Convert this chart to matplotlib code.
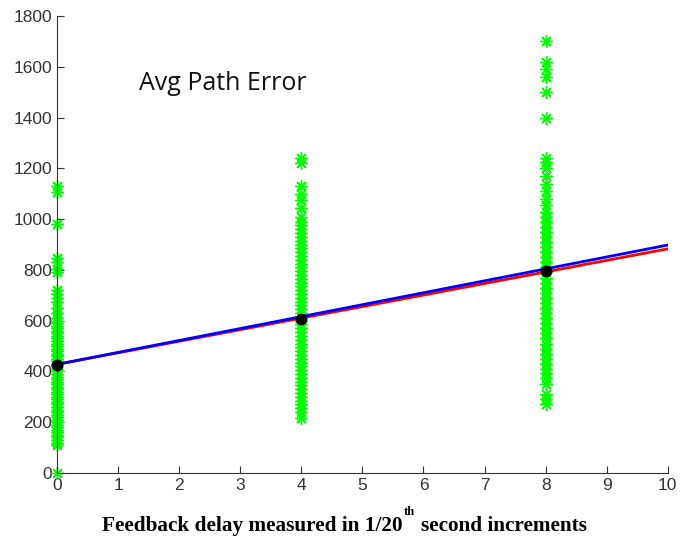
import matplotlib
matplotlib.use("Agg")
import matplotlib.pyplot as plt
import numpy as np

# Feedback delay groups (in 1/20th second increments)
delays = [0, 4, 8]

# Average path error per trial at each delay
errors_d0 = [1130, 1105, 980, 845, 830, 805, 790, 720, 705, 690, 675, 650, 630,
             610, 600, 590, 580, 570, 560, 550, 540, 530, 520, 510, 500, 490,
             480, 470, 460, 450, 440, 430, 420, 410, 400, 390, 380, 370, 360,
             350, 340, 330, 320, 310, 300, 290, 280, 270, 260, 250, 240, 230,
             220, 210, 200, 190, 180, 170, 160, 150, 140, 130, 120, 110, 0]
errors_d4 = [1240, 1220, 1130, 1100, 1075, 1045, 1010, 990, 975, 960, 945, 930,
             915, 900, 885, 870, 855, 840, 825, 810, 795, 780, 765, 750, 735,
             720, 705, 690, 675, 660, 645, 630, 615, 600, 585, 570, 555, 540,
             525, 510, 495, 480, 465, 450, 435, 420, 405, 390, 375, 360, 345,
             330, 315, 300, 285, 270, 255, 240, 215]
errors_d8 = [1700, 1620, 1590, 1560, 1500, 1400, 1240, 1225, 1200, 1170, 1140,
             1110, 1080, 1055, 1030, 1010, 990, 970, 950, 930, 910, 890, 870,
             850, 830, 810, 790, 770, 750, 730, 710, 690, 670, 650, 630, 610,
             590, 570, 550, 530, 510, 490, 470, 450, 430, 410, 395, 375, 350,
             310, 290, 270]

# Group means and the two fitted trend lines (intercept, slope)
group_means = [425, 605, 795]
fit_red = (428, 45.5)
fit_blue = (428, 47.0)

fig = plt.figure(figsize=(6.8, 5.39), dpi=100)
ax = fig.add_axes([0.0838, 0.1224, 0.8982, 0.8479])

green = (0.0, 1.0, 0.0)
asterisk = (8, 2, 0)
for d, vals in zip(delays, [errors_d0, errors_d4, errors_d8]):
    ax.plot([d] * len(vals), vals, linestyle="none", marker=asterisk,
            color=green, markersize=9, markeredgewidth=1.0, clip_on=False,
            zorder=2)

xs = np.array([0, 10])
ax.plot(xs, fit_red[0] + fit_red[1] * xs, color="red", linewidth=2, zorder=3)
ax.plot(xs, fit_blue[0] + fit_blue[1] * xs, color="blue", linewidth=2,
        zorder=4)
ax.plot(delays, group_means, linestyle="none", marker="o", color="black",
        markersize=7.5, zorder=5, clip_on=False)

ax.set_xlim(0, 10)
ax.set_ylim(0, 1800)
ax.set_xticks(range(0, 11))
ax.set_yticks(range(0, 1801, 200))
for side in ("top", "right"):
    ax.spines[side].set_visible(False)
for side in ("left", "bottom"):
    ax.spines[side].set_color("#333333")
ax.tick_params(direction="in", length=5, color="#333333", labelsize=12.5,
               labelcolor="#333333")
for lbl in ax.get_xticklabels() + ax.get_yticklabels():
    lbl.set_family("Liberation Sans")

ax.text(1.35, 1510, "Avg Path Error", fontsize=18, family="Open Sans",
        color="#111111")

# Axis label assembled from pieces so the ordinal suffix sits as a superscript
label_font = dict(family="Liberation Serif", fontweight="bold", color="black")
fig.canvas.draw()
renderer = fig.canvas.get_renderer()
fw = fig.bbox.width
x0, base_y = 102 / 680, 1 - 531 / 539
part1 = fig.text(x0, base_y, "Feedback delay measured in 1/20", fontsize=15.3,
                 **label_font)
w1 = part1.get_window_extent(renderer).width / fw
sup = fig.text(x0 + w1 + 1 / fw, base_y + 16 / 539, "th", fontsize=9,
               **label_font)
ws = sup.get_window_extent(renderer).width / fw
fig.text(x0 + w1 + ws + 7 / fw, base_y, "second increments", fontsize=15.3,
         **label_font)

fig.savefig("out.png", dpi=100)
